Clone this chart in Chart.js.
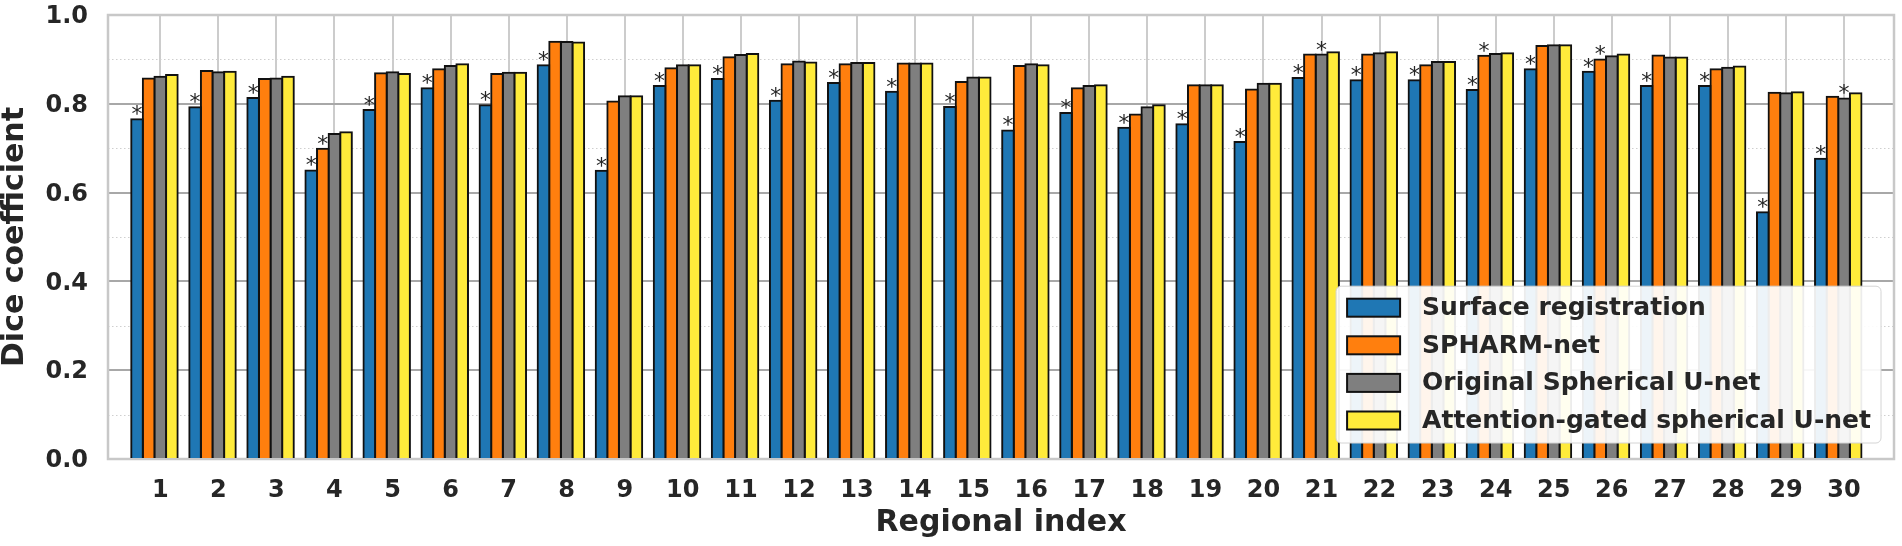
<!DOCTYPE html>
<html lang="en">
<head>
  <meta charset="UTF-8" />
  <title>Dice coefficient per region</title>
  <script src="https://cdn.jsdelivr.net/npm/chart.js@4"></script>
  <style>
    body {
      margin: 0;
      background: #fff;
    }
    canvas {
      display: block;
    }
  </style>
</head>
<body>
  <canvas id="chart" width="1902" height="546"></canvas>

  <script>
    // region indices on the x axis and the labels printed under them
    const regions = [1, 2, 3, 4, 5, 6, 7, 8, 9, 10, 11, 12, 13, 14, 15,
                     16, 17, 18, 19, 20, 21, 22, 23, 24, 25, 26, 27, 28, 29, 30];
    const regionLabels = ['1', '2', '3', '4', '5', '6', '7', '8', '9', '10', '11', '12', '13', '14', '15',
                          '16', '17', '18', '19', '20', '21', '22', '23', '24', '25', '26', '27', '28', '29', '30'];

    const seriesNames = ['Surface registration', 'SPHARM-net', 'Original Spherical U-net', 'Attention-gated spherical U-net'];
    const seriesColors = ['#1f77b4', '#ff7f0e', '#7f7f7f', '#ffeb3b'];

    const surfaceReg = [0.765, 0.792, 0.813, 0.650, 0.786, 0.835, 0.797, 0.887, 0.649, 0.840,
                        0.856, 0.807, 0.847, 0.827, 0.793, 0.740, 0.779, 0.746, 0.754, 0.714,
                        0.858, 0.853, 0.853, 0.831, 0.878, 0.872, 0.840, 0.840, 0.556, 0.676];
    const spharmNet = [0.857, 0.874, 0.856, 0.699, 0.869, 0.878, 0.867, 0.940, 0.805, 0.880,
                       0.905, 0.889, 0.889, 0.891, 0.849, 0.885, 0.835, 0.776, 0.842, 0.832,
                       0.911, 0.911, 0.887, 0.908, 0.930, 0.900, 0.909, 0.878, 0.825, 0.816];
    const origUnet = [0.861, 0.871, 0.857, 0.732, 0.871, 0.885, 0.870, 0.939, 0.817, 0.887,
                      0.910, 0.895, 0.892, 0.891, 0.859, 0.889, 0.840, 0.792, 0.842, 0.845,
                      0.911, 0.914, 0.894, 0.912, 0.932, 0.907, 0.904, 0.881, 0.824, 0.812];
    const attnUnet = [0.865, 0.872, 0.861, 0.736, 0.867, 0.889, 0.870, 0.938, 0.817, 0.887,
                      0.912, 0.893, 0.892, 0.891, 0.859, 0.887, 0.842, 0.797, 0.842, 0.845,
                      0.916, 0.916, 0.894, 0.914, 0.932, 0.911, 0.904, 0.884, 0.826, 0.824];
    const seriesValues = [surfaceReg, spharmNet, origUnet, attnUnet];

    // regions marked with * (significant difference) for each series
    const sigSurfaceReg = [1, 2, 3, 4, 5, 6, 7, 8, 9, 10, 11, 12, 13, 14, 15,
                           16, 17, 18, 19, 20, 21, 22, 23, 24, 25, 26, 27, 28, 29, 30];
    const sigSpharmNet = [4, 24, 26];
    const sigOrigUnet = [21, 30];
    const sigAttnUnet = [];
    const significance = [sigSurfaceReg, sigSpharmNet, sigOrigUnet, sigAttnUnet];

    const yMinorTicks = [0.1, 0.3, 0.5, 0.7, 0.9];

    const textColor = '#262626';
    const categoryPct = 0.8;
    // ticks sit on the third bar of each group
    const tickShift = categoryPct / seriesNames.length / 2;

    Chart.defaults.font.family = '"DejaVu Sans", sans-serif';
    Chart.defaults.color = textColor;

    // dotted minor grid + light frame, under the bars
    const frameAndMinorGrid = {
      id: 'frameAndMinorGrid',
      beforeDatasetsDraw(chart) {
        const { ctx, chartArea: a, scales: { y } } = chart;
        ctx.save();
        ctx.strokeStyle = '#cfcfcf';
        ctx.lineWidth = 1;
        ctx.setLineDash([1.5, 2.5]);
        yMinorTicks.forEach(v => {
          const py = Math.round(y.getPixelForValue(v)) + 0.5;
          ctx.beginPath();
          ctx.moveTo(a.left, py);
          ctx.lineTo(a.right, py);
          ctx.stroke();
        });
        ctx.setLineDash([]);
        ctx.strokeStyle = '#c8c8c8';
        ctx.lineWidth = 2.5;
        ctx.strokeRect(a.left, a.top, a.right - a.left, a.bottom - a.top);
        ctx.restore();
      }
    };

    const sigMarks = {
      id: 'sigMarks',
      afterDatasetsDraw(chart) {
        const ctx = chart.ctx;
        ctx.save();
        ctx.font = '22px "DejaVu Sans"';
        ctx.fillStyle = textColor;
        ctx.textAlign = 'center';
        ctx.textBaseline = 'alphabetic';
        significance.forEach((list, s) => {
          const meta = chart.getDatasetMeta(s);
          list.forEach(r => {
            const bar = meta.data[regions.indexOf(r)];
            ctx.fillText('*', bar.x, bar.y + 2);
          });
        });
        ctx.restore();
      }
    };

    // legend box in the lower right corner of the plot
    const boxLegend = {
      id: 'boxLegend',
      afterDatasetsDraw(chart) {
        const { ctx, chartArea: a } = chart;
        ctx.save();
        ctx.font = 'bold 25px "DejaVu Sans"';
        const textW = Math.max(...seriesNames.map(n => ctx.measureText(n).width));
        const padL = 11, swW = 53, swH = 18, gap = 22, padR = 10;
        const rowH = 37.6, padT = 21.5, padB = 22.5;
        const w = padL + swW + gap + textW + padR;
        const h = padT + rowH * (seriesNames.length - 1) + padB;
        const x0 = a.right - 13 - w;
        const y0 = a.bottom - 16 - h;

        ctx.beginPath();
        ctx.roundRect(x0, y0, w, h, 5);
        ctx.fillStyle = 'rgba(255,255,255,0.92)';
        ctx.fill();
        ctx.strokeStyle = '#d4d4d4';
        ctx.lineWidth = 1;
        ctx.stroke();

        seriesNames.forEach((name, i) => {
          const cy = y0 + padT + i * rowH;
          ctx.fillStyle = seriesColors[i];
          ctx.fillRect(x0 + padL, cy - swH / 2, swW, swH);
          ctx.strokeStyle = '#111';
          ctx.lineWidth = 2;
          ctx.strokeRect(x0 + padL, cy - swH / 2, swW, swH);
          ctx.fillStyle = textColor;
          ctx.textAlign = 'left';
          ctx.textBaseline = 'middle';
          ctx.fillText(name, x0 + padL + swW + gap, cy + 1);
        });
        ctx.restore();
      }
    };

    const chart = new Chart(document.getElementById('chart'), {
      type: 'bar',
      data: {
        datasets: seriesNames.map((name, s) => ({
          label: name,
          data: regions.map((r, i) => ({ x: r, y: seriesValues[s][i] })),
          backgroundColor: seriesColors[s],
          borderColor: '#111',
          borderWidth: 2,
          inflateAmount: 1
        }))
      },
      options: {
        responsive: false,
        animation: false,
        devicePixelRatio: 1,
        datasets: {
          bar: { categoryPercentage: categoryPct, barPercentage: 1 }
        },
        layout: { padding: { top: 15, right: 8, left: 0, bottom: 0 } },
        plugins: {
          legend: { display: false },
          tooltip: { enabled: false }
        },
        scales: {
          x: {
            type: 'linear',
            offset: false,
            min: 0.2,
            max: 30.96,
            afterBuildTicks: scale => {
              scale.ticks = regions.map(r => ({ value: r + tickShift }));
            },
            afterFit: scale => {
              scale.height = 87;
              scale.paddingLeft = 0;
              scale.paddingRight = 0;
            },
            ticks: {
              autoSkip: false,
              maxRotation: 0,
              padding: 17,
              font: { size: 24, weight: 'bold' },
              callback: (v, i) => regionLabels[i]
            },
            grid: { color: '#cccccc', lineWidth: 2, drawTicks: false, offset: false },
            border: { display: false },
            title: {
              display: true,
              text: 'Regional index',
              font: { size: 30, weight: 'bold', lineHeight: 1 },
              padding: { top: 0, bottom: 7.5 }
            }
          },
          y: {
            min: 0,
            max: 1,
            afterFit: scale => {
              scale.width = 108;
              scale.paddingTop = 0;
              scale.paddingBottom = 0;
            },
            ticks: {
              stepSize: 0.2,
              padding: 20,
              labelOffset: 2,
              font: { size: 24, weight: 'bold' },
              callback: v => v.toFixed(1)
            },
            grid: { color: '#a8a8a8', lineWidth: 2, drawTicks: false },
            border: { display: false },
            title: {
              display: true,
              text: 'Dice coefficient',
              font: { size: 30, weight: 'bold', lineHeight: 1 },
              padding: 0
            }
          }
        }
      },
      plugins: [frameAndMinorGrid, sigMarks, boxLegend]
    });
  </script>
</body>
</html>
